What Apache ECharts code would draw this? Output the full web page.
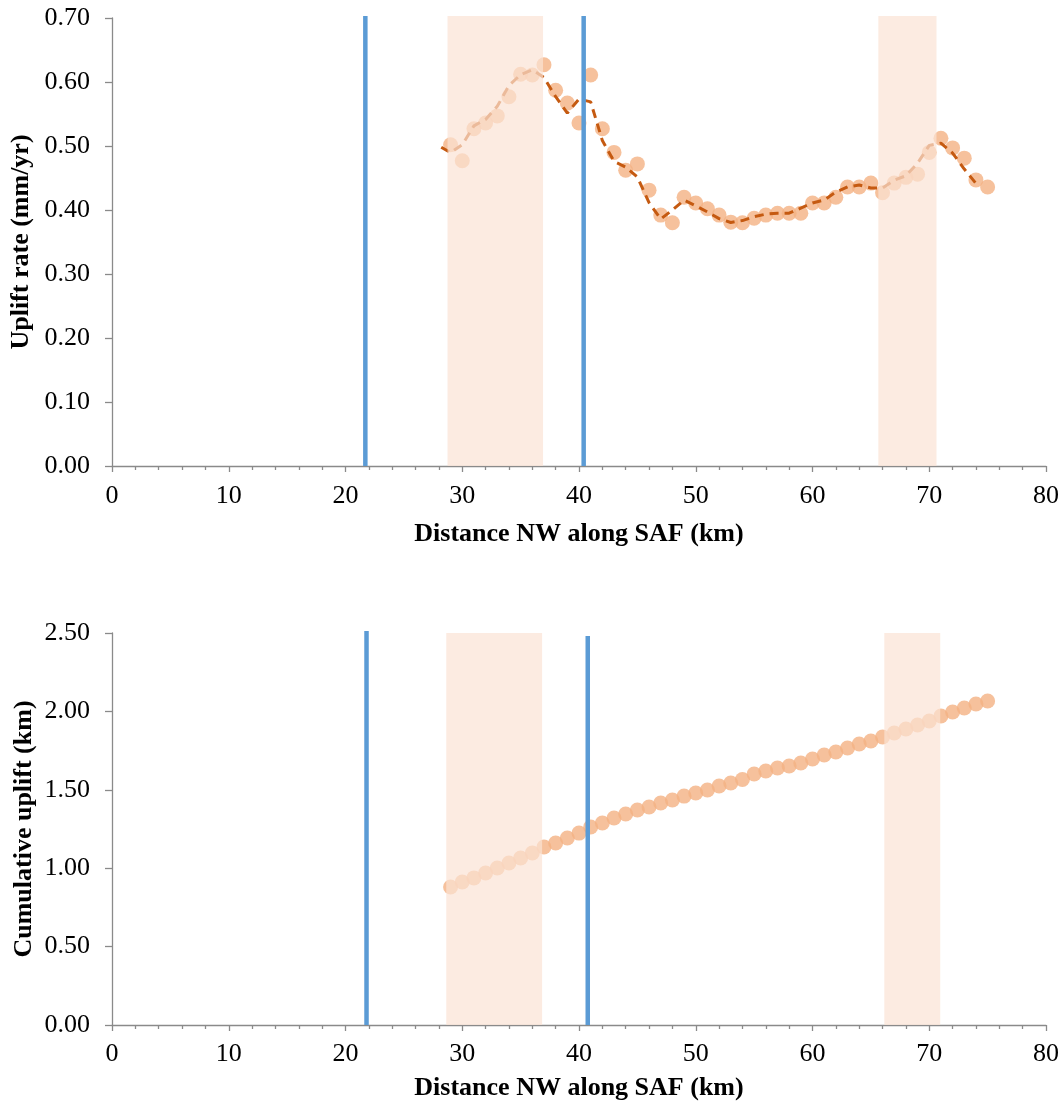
<!DOCTYPE html>
<html>
<head>
<meta charset="utf-8">
<script src="https://cdn.jsdelivr.net/npm/echarts@6/dist/echarts.min.js"></script>
<style>
html,body{margin:0;padding:0;background:#fff;}
#c{width:1062px;height:1106px;}
</style>
</head>
<body>
<div id="c"></div>
<script>
// ---- data ----
const distX = [29,30,31,32,33,34,35,36,37,38,39,40,41,42,43,44,45,46,47,48,49,50,51,52,53,54,55,56,57,58,59,60,61,62,63,64,65,66,67,68,69,70,71,72,73,74,75];
const upliftRate = [0.502,0.477,0.527,0.536,0.547,0.577,0.612,0.611,0.627,0.587,0.567,0.536,0.611,0.527,0.490,0.462,0.472,0.431,0.392,0.380,0.420,0.411,0.402,0.392,0.381,0.380,0.387,0.392,0.395,0.395,0.395,0.411,0.411,0.420,0.436,0.436,0.442,0.427,0.442,0.451,0.456,0.490,0.512,0.497,0.481,0.447,0.436];
const trendX = [28.2,29,30,31,32,33,34,35,36,37,38,39,40,41,42,43,44,45,46,47,48,49,50,51,52,53,54,55,56,57,58,59,60,61,62,63,64,65,66,67,68,69,70,71,72,73,74];
const trendRate = [0.498,0.4895,0.502,0.5315,0.5415,0.562,0.5945,0.6115,0.619,0.607,0.577,0.5515,0.5735,0.569,0.5085,0.476,0.467,0.4515,0.4115,0.386,0.400,0.4155,0.4065,0.397,0.3865,0.3805,0.3835,0.3895,0.3935,0.395,0.395,0.403,0.411,0.4155,0.428,0.436,0.439,0.4345,0.4345,0.4465,0.4535,0.473,0.501,0.5045,0.489,0.464,0.4415];
const cumUplift = [0.880,0.912,0.938,0.969,1.001,1.033,1.065,1.097,1.135,1.161,1.193,1.224,1.263,1.288,1.320,1.346,1.371,1.390,1.416,1.435,1.460,1.480,1.499,1.524,1.543,1.566,1.601,1.620,1.639,1.652,1.671,1.696,1.722,1.741,1.767,1.792,1.811,1.837,1.862,1.888,1.913,1.939,1.971,1.996,2.022,2.047,2.066];
const faultsTop = [[21.7, 0.703],[40.4, 0.703]];
const faultsBottom = [[21.8, 2.513],[40.75, 2.481]];
const bandsTop = [[28.74, 36.92, 0, 0.703],[65.64, 70.62, 0, 0.703]];
const bandsBottom = [[28.63, 36.84, 0, 2.50],[66.15, 70.94, 0, 2.50]];
const xTicks = [0,10,20,30,40,50,60,70,80];

const FONT = 'Liberation Serif';
const FS = 26;
const axisColor = '#8a8a8a';

function xAxisDef(gi, gap, lblMargin){
  return {
    type:'value', gridIndex:gi, min:0, max:80, interval:10,
    name:'Distance NW along SAF (km)', nameLocation:'middle', nameGap:gap, nameMoveOverlap:false,
    nameTextStyle:{fontFamily:FONT, fontSize:FS, fontWeight:'bold', color:'#000'},
    axisLine:{show:true, onZero:false, lineStyle:{color:axisColor, width:1.3}},
    axisTick:{show:true, length:6, lineStyle:{color:axisColor, width:1.3}},
    minorTick:{show:true, splitNumber:5, length:4, lineStyle:{color:axisColor, width:1.3}},
    splitLine:{show:false}, minorSplitLine:{show:false},
    axisLabel:{fontFamily:FONT, fontSize:FS, color:'#000', margin:lblMargin, showMinLabel:true, showMaxLabel:true,
      formatter:v=> xTicks.indexOf(v)>=0 ? String(v) : ''}
  };
}
function yAxisDef(gi, max, interval, name, gap){
  return {
    type:'value', gridIndex:gi, min:0, max:max, interval:interval,
    name:name, nameLocation:'middle', nameGap:gap, nameMoveOverlap:false,
    nameTextStyle:{fontFamily:FONT, fontSize:FS, fontWeight:'bold', color:'#000'},
    axisLine:{show:true, lineStyle:{color:axisColor, width:1.3}},
    axisTick:{show:true, length:7, lineStyle:{color:axisColor, width:1.3}},
    splitLine:{show:false},
    axisLabel:{fontFamily:FONT, fontSize:FS, color:'#000', margin:22, formatter:v=>v.toFixed(2)}
  };
}
function bandSeries(xi, data){
  return {
    type:'custom', xAxisIndex:xi, yAxisIndex:xi, z:10, silent:true, clip:false,
    encode:{x:[0,1], y:[2,3]},
    data:data,
    renderItem:(params, api)=>{
      const p0 = api.coord([api.value(0), api.value(3)]);
      const p1 = api.coord([api.value(1), api.value(2)]);
      return {type:'rect', shape:{x:p0[0], y:p0[1], width:p1[0]-p0[0], height:p1[1]-p0[1]},
        style:{fill:'rgba(251,226,212,0.7)'}};
    }
  };
}
function faultSeries(xi, data){
  return {
    type:'custom', xAxisIndex:xi, yAxisIndex:xi, z:20, silent:true, clip:false,
    encode:{x:0, y:1},
    data:data,
    renderItem:(params, api)=>{
      const p0 = api.coord([api.value(0), 0]);
      const p1 = api.coord([api.value(0), api.value(1)]);
      return {type:'line', shape:{x1:p0[0], y1:p0[1], x2:p1[0], y2:p1[1]},
        style:{stroke:'#5B9BD5', lineWidth:4.5}};
    }
  };
}

const chart = echarts.init(document.getElementById('c'), null, {renderer:'canvas'});
chart.setOption({
  backgroundColor:'#fff',
  animation:false,
  grid:[
    {left:112, top:18, width:936, height:448},
    {left:112, top:633, width:936, height:392}
  ],
  xAxis:[xAxisDef(0, 55, 17), xAxisDef(1, 50, 16)],
  yAxis:[
    yAxisDef(0, 0.7, 0.1, 'Uplift rate (mm/yr)', 78),
    yAxisDef(1, 2.5, 0.5, 'Cumulative uplift (km)', 75)
  ],
  series:[
    {type:'scatter', xAxisIndex:0, yAxisIndex:0, z:2, symbol:'circle', symbolSize:15,
      itemStyle:{color:'#F4B183'}, data:distX.map((x,i)=>[x, upliftRate[i]])},
    {type:'line', xAxisIndex:0, yAxisIndex:0, z:3, symbol:'none', smooth:false,
      lineStyle:{color:'#C55A11', width:3, type:[9,6]}, data:trendX.map((x,i)=>[x, trendRate[i]])},
    bandSeries(0, bandsTop),
    faultSeries(0, faultsTop),
    {type:'scatter', xAxisIndex:1, yAxisIndex:1, z:2, symbol:'circle', symbolSize:15,
      itemStyle:{color:'#F4B183'}, data:distX.map((x,i)=>[x, cumUplift[i]])},
    bandSeries(1, bandsBottom),
    faultSeries(1, faultsBottom)
  ]
});
</script>
</body>
</html>
